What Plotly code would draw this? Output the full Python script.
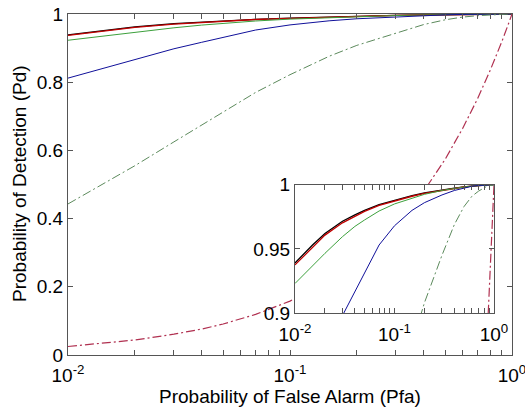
import plotly.graph_objects as go

# ---- data ----
pfa = [0.01, 0.015, 0.02, 0.03, 0.04, 0.05, 0.07, 0.1, 0.15, 0.2,
       0.3, 0.4, 0.5, 0.6, 0.7, 0.8, 0.85, 0.9, 0.95, 1.0]

pd_black = [0.939, 0.953, 0.962, 0.9715, 0.9765, 0.980, 0.9845, 0.988, 0.9915, 0.9937,
            0.996, 0.9973, 0.9983, 0.999, 0.9995, 0.9998, 0.9999, 1.0, 1.0, 1.0]
pd_red = [0.9375, 0.9515, 0.9607, 0.9703, 0.9755, 0.9792, 0.9838, 0.9874, 0.991, 0.9933,
          0.9957, 0.9971, 0.9982, 0.9989, 0.9994, 0.9997, 0.9999, 1.0, 1.0, 1.0]
pd_green = [0.923, 0.937, 0.9465, 0.9595, 0.9675, 0.9725, 0.9795, 0.985, 0.9895, 0.9925,
            0.9955, 0.9972, 0.9982, 0.9989, 0.9994, 0.9997, 0.9998, 0.9999, 1.0, 1.0]
pd_blue = [0.812, 0.843, 0.865, 0.898, 0.917, 0.932, 0.953, 0.968, 0.980, 0.986,
           0.992, 0.9955, 0.9975, 0.9988, 0.9994, 0.9998, 0.9999, 1.0, 1.0, 1.0]
pd_green_dd = [0.443, 0.51, 0.555, 0.625, 0.675, 0.713, 0.770, 0.822, 0.876, 0.908,
               0.945, 0.969, 0.983, 0.991, 0.995, 0.998, 0.9988, 0.9993, 0.9997, 1.0]
pd_red_dd = [0.025, 0.035, 0.044, 0.061, 0.076, 0.091, 0.119, 0.158, 0.22, 0.276,
             0.382, 0.48, 0.574, 0.665, 0.752, 0.837, 0.878, 0.919, 0.96, 1.0]

x_tickvals = [0.01, 0.1, 1.0]
x_ticktext = ["10<sup>-2</sup>", "10<sup>-1</sup>", "10<sup>0</sup>"]
x_minor = [0.02, 0.03, 0.04, 0.05, 0.06, 0.07, 0.08, 0.09,
           0.2, 0.3, 0.4, 0.5, 0.6, 0.7, 0.8, 0.9]
y_tickvals = [0, 0.2, 0.4, 0.6, 0.8, 1.0]
y_ticktext = ["0", "0.2", "0.4", "0.6", "0.8", "1"]
y2_tickvals = [0.9, 0.95, 1.0]
y2_ticktext = ["0.9", "0.95", "1"]

series = [
    (pd_black, "#000000", "solid", 1.3),
    (pd_red, "#c00000", "solid", 1.3),
    (pd_green, "#3ca03c", "solid", 1.0),
    (pd_blue, "#10109a", "solid", 1.0),
    (pd_green_dd, "#5c8a5c", "9px,3px,2px,3px", 1.0),
    (pd_red_dd, "#b03050", "9px,3px,2px,3px", 1.2),
]

fig = go.Figure()
for xa, ya in (("x", "y"), ("x2", "y2")):
    for vals, col, dash, w in series:
        fig.add_trace(go.Scatter(x=pfa, y=vals, mode="lines", xaxis=xa, yaxis=ya,
                                 line=dict(color=col, width=w, dash=dash),
                                 showlegend=False, hoverinfo="skip"))

W, H = 525, 417
def px(a, b):
    return [a / W, b / W]
def py(top, bottom):
    return [1 - bottom / H, 1 - top / H]

font = dict(family="Liberation Sans, Arial, sans-serif", size=19, color="black")
axcol = "#555555"

common_x = dict(type="log", tickvals=x_tickvals, ticktext=x_ticktext,
                ticks="inside", ticklen=5, tickcolor=axcol, showline=True,
                linecolor=axcol, linewidth=1, mirror="ticks", showgrid=False,
                zeroline=False, tickfont=font, automargin=False,
                ticklabeloverflow="allow",
                minor=dict(ticks="inside", ticklen=5, tickcolor=axcol,
                           tickvals=x_minor, showgrid=False))

fig.update_layout(
    width=W, height=H,
    margin=dict(l=0, r=0, t=0, b=0, autoexpand=False),
    paper_bgcolor="white", plot_bgcolor="rgb(255,255,255)",
    showlegend=False,
    xaxis=dict(common_x, domain=px(68, 512), range=[-2, 0], anchor="y",
               ticklabelstandoff=3),
    yaxis=dict(domain=py(14, 355), range=[0, 1], tickvals=y_tickvals,
               ticktext=y_ticktext, ticks="inside", ticklen=5, tickcolor=axcol,
               showline=True, linecolor=axcol, linewidth=1, mirror="ticks",
               showgrid=False, zeroline=False, tickfont=font, anchor="x",
               automargin=False, ticklabeloverflow="allow"),
    xaxis2=dict(common_x, domain=px(295, 494), range=[-2, 0], anchor="y2",
                ticklabelstandoff=4),
    yaxis2=dict(domain=py(184.7, 313), range=[0.9, 1], tickvals=y2_tickvals,
                ticktext=y2_ticktext, ticks="inside", ticklen=5, tickcolor=axcol,
                showline=True, linecolor=axcol, linewidth=1, mirror="ticks",
                showgrid=False, zeroline=False, tickfont=font, anchor="x2",
                automargin=False),
    annotations=[
        dict(text="Probability of False Alarm (Pfa)", x=290 / W, y=1 - 396 / H,
             xref="paper", yref="paper", showarrow=False, font=font,
             xanchor="center", yanchor="middle"),
        dict(text="Probability of Detection (Pd)", x=20 / W, y=1 - 184 / H,
             xref="paper", yref="paper", showarrow=False, font=font, textangle=-90,
             xanchor="center", yanchor="middle"),
    ],
)

fig.write_html("out.html")
